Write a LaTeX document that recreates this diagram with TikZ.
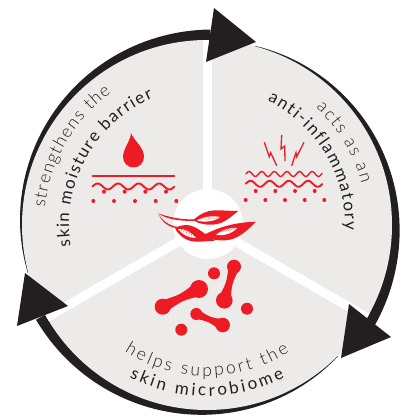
\documentclass[tikz,border=0pt]{standalone}
\usepackage{fontspec}
\setmainfont{Lato}
\newfontfamily\thinfont{Lato Light}
\usetikzlibrary{calc,decorations.text}
\definecolor{skinred}{HTML}{ED1C24}
\definecolor{sectorgray}{HTML}{ECEBEA}
\definecolor{ringblack}{HTML}{231F20}
\tikzset{
pixel/.style={shift={(-207,225)},y=-1pt},
spoke/.style={white,line width=9pt},
head/.style={fill=ringblack},
redfill/.style={fill=skinred},
redline/.style={draw=skinred,line width=1.9pt,line cap=round},
boltline/.style={draw=skinred,line width=1.3pt,line join=miter},
hatchline/.style={draw=skinred,line width=.35pt},
thinlabel/.style={decorate,decoration={text along path,text align={fit to path},text color=ringblack,text={|\thinfont\fontsize{17.5}{17.5}\selectfont|#1}}},
boldlabel/.style={decorate,decoration={text along path,text align={fit to path},text color=ringblack,text={|\fontsize{17}{17}\selectfont|#1}}}
}
\newcommand{\molecule}[7]{
\coordinate (p) at (#1,#2);\coordinate (q) at (#4,#5);\coordinate (m) at ($(p)!.5!(q)$);
\fill[redfill] (p) circle (#3) (q) circle (#6);
\fill[redfill] ($(p)!.8*#3pt!90:(q)$) .. controls ($(m)!#7pt!90:(q)$) .. ($(q)!.8*#6pt!-90:(p)$) -- ($(q)!.8*#6pt!90:(p)$) .. controls ($(m)!#7pt!-90:(q)$) .. ($(p)!.8*#3pt!-90:(q)$) -- cycle;
}
\newcommand{\ripple}[6]{
\draw[redline,line width=#6pt] plot[domain=#1:#2,samples=70] (\x,{#3-#4*sin((\x-#1)/#5*360)});
}
\begin{document}
\begin{tikzpicture}[x=1pt,y=1pt]
\useasboundingbox (-207,-192) rectangle (206,225);
% ring pieces
\foreach \from/\to/\grow in {195/89/10,75/-31/10,-45/-151/10}{
\fill[ringblack] plot[domain=\from:\to,samples=60] (\x:{185+.5+\grow*(\from-\x)/(\from-\to)}) -- (\to:170) -- (\from:170) -- cycle;
}
\fill[sectorgray] (0,0) circle (185);
\foreach \ang in {90,210,330}{
\draw[spoke] (0,0) -- (\ang:185);
}
\fill[white] (1,1) circle (35);
\fill[head] (7,217) -- (49,183) -- (-1,163) -- cycle;
\fill[head] (142,-79) -- (184,-112) -- (134,-133) -- cycle;
\fill[head] (-139,-81) -- (-182,-48) -- (-190,-101) -- cycle;
% labels
\path[thinlabel={strengthens the}] (174:163) arc[start angle=174,end angle=126,radius=163];
\path[boldlabel={skin moisture barrier}] (189:138) arc[start angle=189,end angle=113,radius=138];
\path[thinlabel={acts as an}] (47:160) arc[start angle=47,end angle=15,radius=160];
\path[boldlabel={anti-inflammatory}] (64:138) arc[start angle=64,end angle=-2,radius=138];
\path[thinlabel={helps support the}] (-123:151) arc[start angle=-123,end angle=-57,radius=151];
\path[boldlabel={skin microbiome}] (-117:171) arc[start angle=-117,end angle=-63,radius=171];
\begin{scope}[pixel]
% drop icon
\fill[redfill] (131,133) .. controls (131,140) and (123,149) .. (123,157) arc[start angle=180,end angle=0,radius=10.5] .. controls (144,147) and (134,141) .. (131,133) -- cycle;
\draw[redline] (92.5,175.7) -- (174.3,175.7);
\ripple{92.5}{174.3}{186.5}{3}{20.5}{1.9}
\foreach \dotx in {104,124.7,145.3,166}{\fill[redfill] (\dotx,191.7) circle (2);}
\foreach \dotx in {93.3,114,135,155.7,176.3}{\fill[redfill] (\dotx,201) circle (2);}
% bolts icon
\draw[boltline] (281.7,135) -- (281,149) -- (284.7,146) -- (285,161);
\draw[boltline] (264.3,142.3) -- (269.3,156.7) -- (270.7,152.7) -- (276.7,165.7);
\draw[boltline] (304,142.3) -- (296.7,156.7) -- (296,152.7) -- (291.7,165.7);
\ripple{246}{322}{174}{2.5}{12.6}{1.4}
\ripple{245.7}{322.3}{183.8}{3}{19.2}{1.9}
\foreach \dotx in {255.7,275.3,295,314.7}{\fill[redfill] (\dotx,191) circle (2);}
\foreach \dotx in {245.7,265.3,285,304.7,324.3}{\fill[redfill] (\dotx,200) circle (2);}
% muscle icon
\fill[redfill] (238.3,211) .. controls (225,211) and (213,209) .. (206,212) .. controls (200,214) and (196,218) .. (193,220) .. controls (200,225) and (212,226) .. (221,223) .. controls (228,220) and (233,215) .. (238.3,211) -- cycle;
\fill[redfill] (215,240.7) .. controls (206,236) and (198,226) .. (187,225) .. controls (181,225) and (177,227) .. (175,228) .. controls (178,235) and (186,241) .. (194,241.5) .. controls (201,242) and (208,241) .. (215,240.7) -- cycle;
\fill[redfill] (256,221.7) .. controls (247,222) and (238,223) .. (230,225) .. controls (220,227) and (210,232) .. (203.3,235) .. controls (208,240) and (220,241) .. (228,240) .. controls (238,239) and (248,230) .. (256,221.7) -- cycle;
\fill[redfill] (158.3,213.3) .. controls (168,217) and (180,219.5) .. (194,219.5) -- (194,221) .. controls (178,221) and (166,219) .. (158.3,213.3) -- cycle;
\fill[redfill] (158.3,213.3) .. controls (162,221) and (170,226) .. (178,227) -- (176,228) .. controls (168,227) and (161,221) .. (158.3,213.3) -- cycle;
\fill[redfill] (190,236) .. controls (195,236) and (198,235) .. (204,234.5) -- (204,236) .. controls (198,236.5) and (195,237) .. (190,237) -- cycle;
\fill[white] (197,220.5) .. controls (205,223) and (216,221) .. (220,217) .. controls (213,215.5) and (203,216.5) .. (197,220.5) -- cycle;
\fill[white] (178,229) .. controls (182,234.5) and (189,238) .. (196,238) .. controls (191,232) and (185,228.5) .. (178,229) -- cycle;
\fill[white] (216,235) .. controls (223,236) and (232,234) .. (237,228) .. controls (230,227.5) and (221,230) .. (216,235) -- cycle;
\foreach \hatch in {0,2.5,...,15}{
\draw[hatchline] (202+\hatch,217.5) -- (200+\hatch,219.5);
\draw[hatchline] (220+\hatch,231-\hatch*.2) -- (218+\hatch,233-\hatch*.2);
}
\foreach \hatch in {0,2.5,...,10}{
\draw[hatchline] (182+\hatch,228.5+\hatch*.5) -- (181+\hatch,231+\hatch*.5);
}
% molecule icon
\molecule{199}{289}{9}{162.7}{306.7}{8}{3}
\molecule{234}{266.7}{7}{224.3}{300.3}{8.3}{2.6}
\molecule{196.3}{314}{6}{222.7}{325}{7.3}{2.2}
\fill[redfill] (214,273.3) circle (6);
\fill[redfill] (247,308.7) circle (6);
\fill[redfill] (181.3,329.7) circle (6);
\end{scope}
\end{tikzpicture}
\end{document}
